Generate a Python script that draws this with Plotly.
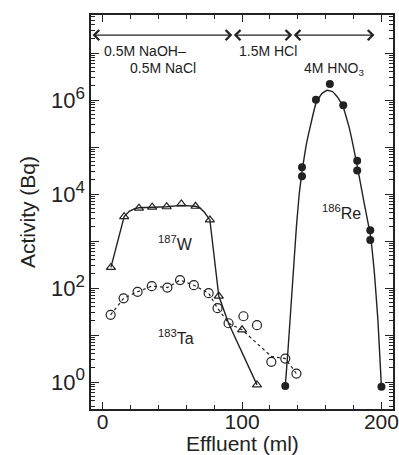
import plotly.graph_objects as go

# ---- data ----
w_x = [5.9, 15.4, 26, 35.5, 45.9, 56.4, 66.6, 76.9, 83.3, 100, 110.7]
w_y = [275, 3311, 5012, 5248, 5370, 6166, 5495, 2818, 67.6, 12.9, 0.87]
w_curve_x = [5.9, 15.4, 19, 23, 26, 35.5, 45.9, 56.4, 66.6, 70, 73, 76.9, 83.3, 90.3, 110.7]
w_curve_y = [275, 3311, 4300, 4900, 5100, 5248, 5370, 5754, 5495, 5000, 4100, 2818, 67.6, 17.8, 0.87]

ta_x = [5.7, 15, 25, 35.2, 46.4, 55.5, 65.4, 76, 82.4, 90.3, 101, 110.7, 121, 131, 139]
ta_y = [26.9, 60.3, 83.2, 109.6, 102.3, 147.9, 114.8, 77.6, 37.2, 17.8, 25.1, 16.2, 2.69, 3.16, 1.51]
ta_curve_x = [5.7, 15, 25, 35.2, 46.4, 55.5, 65.4, 76, 82.4, 90.3, 100, 121, 131, 139]
ta_curve_y = [26.9, 60.3, 83.2, 109.6, 102.3, 147.9, 114.8, 77.6, 37.2, 17.8, 12.9, 3.5, 3.16, 1.51]

re_x = [131, 143, 143, 153, 163, 172.6, 182.6, 182.6, 192, 192, 200]
re_y = [0.82, 37150, 23990, 1.02e6, 2.19e6, 7.76e5, 51290, 31620, 1698, 1047, 0.79]
re_curve_x = [131, 133, 136, 139, 141, 143, 146, 149, 153, 157, 161, 165, 169,
              172.6, 177, 182.6, 187, 192, 195, 197.5, 200]
re_curve_y = [0.82, 5, 100, 2000, 10000, 30000, 1.1e5, 2.8e5, 8.5e5, 1.35e6, 1.62e6, 1.5e6,
              1.1e6, 7e5, 2.5e5, 40000, 8000, 1350, 200, 20, 0.79]

x_ticks = [0, 100, 200]
x_minor = [20, 40, 60, 80, 120, 140, 160, 180]
y_ticks = [1, 10, 100, 1e3, 1e4, 1e5, 1e6, 1e7]
y_exp = ["0", "", "2", "", "4", "", "6", ""]
y_minor = [m * 10 ** k for k in range(-1, 8) for m in range(2, 10)]

INK = "#222222"
FONT = "Liberation Sans"

y_ticktext = [("10<sup><span style='font-size:17px'>%s</span></sup>" % e) if e else "" for e in y_exp]

fig = go.Figure()

fig.add_trace(go.Scatter(x=w_curve_x, y=w_curve_y, mode="lines",
                         line=dict(color=INK, width=1.4),
                         showlegend=False, hoverinfo="skip"))
fig.add_trace(go.Scatter(x=w_x, y=w_y, mode="markers",
                         marker=dict(symbol="triangle-up-open", size=8, color=INK,
                                     line=dict(width=1.2, color=INK)),
                         showlegend=False))
fig.add_trace(go.Scatter(x=ta_curve_x, y=ta_curve_y, mode="lines",
                         line=dict(color=INK, width=1.2, dash="3px,3px"),
                         showlegend=False, hoverinfo="skip"))
fig.add_trace(go.Scatter(x=ta_x, y=ta_y, mode="markers",
                         marker=dict(symbol="circle-open", size=9, color=INK,
                                     line=dict(width=1.2, color=INK)),
                         showlegend=False))
fig.add_trace(go.Scatter(x=re_curve_x, y=re_curve_y, mode="lines",
                         line=dict(color=INK, width=1.4, shape="spline", smoothing=0.3),
                         showlegend=False, hoverinfo="skip"))
fig.add_trace(go.Scatter(x=re_x, y=re_y, mode="markers",
                         marker=dict(symbol="circle", size=8, color=INK),
                         showlegend=False))

# eluent segments (arrows along the top)
arrow_y = 0.949
segments = [(-8.4, 93), (93, 136), (136, 195)]
for a, b in segments:
    fig.add_annotation(x=b, y=arrow_y, xref="x", yref="paper",
                       ax=a, ay=0, axref="x", ayref="pixel",
                       showarrow=True, arrowhead=4, startarrowhead=4,
                       arrowside="end+start", arrowsize=1.8, startarrowsize=1.8,
                       arrowwidth=1.1, arrowcolor=INK, text="")

labels = [
    ("0.5M NaOH–", -0.7, 0.908),
    ("0.5M NaCl", 17.9, 0.866),
    ("1.5M HCl", 96.4, 0.908),
    ("4M HNO<sub>3</sub>", 143, 0.862),
]
for t, x, y in labels:
    fig.add_annotation(x=x, y=y, xref="x", yref="paper", text=t, showarrow=False,
                       xanchor="left", yanchor="middle",
                       font=dict(family=FONT, size=14, color=INK))

iso = [
    ("<sup>187</sup>W", 38, 0.421),
    ("<sup>183</sup>Ta", 38, 0.183),
    ("<sup>186</sup>Re", 156, 0.50),
]
for t, x, y in iso:
    fig.add_annotation(x=x, y=y, xref="x", yref="paper", text=t, showarrow=False,
                       xanchor="left", yanchor="middle",
                       font=dict(family=FONT, size=16, color=INK))

# x-axis title placed just under the tick labels
fig.add_annotation(x=0.5, y=-0.088, xref="paper", yref="paper", text="Effluent (ml)",
                   showarrow=False, xanchor="center", yanchor="middle",
                   font=dict(family=FONT, size=21, color=INK))

fig.update_layout(
    width=399, height=455,
    margin=dict(l=91, r=6, t=15, b=46),
    paper_bgcolor="white", plot_bgcolor="white",
    font=dict(family=FONT, color=INK),
)
fig.update_xaxes(
    range=[-8.4, 208.3], tickvals=x_ticks, ticks="inside", ticklen=7, tickwidth=1.2,
    tickcolor=INK, showline=True, linecolor=INK, linewidth=1.5, mirror="ticks",
    showgrid=False, zeroline=False, automargin=False,
    ticklabeloverflow="allow", ticklabelstandoff=-7,
    tickfont=dict(family=FONT, size=21, color=INK),
    minor=dict(tickvals=x_minor, ticks="inside", ticklen=4, tickcolor=INK, tickwidth=1),
)
fig.update_yaxes(
    type="log", range=[-0.574, 7.81], tickvals=y_ticks, ticktext=y_ticktext,
    ticks="inside", ticklen=8, tickwidth=1.2, tickcolor=INK,
    showline=True, linecolor=INK, linewidth=1.5, mirror="ticks",
    showgrid=False, zeroline=False, automargin=False,
    ticklabeloverflow="allow",
    tickfont=dict(family=FONT, size=22, color=INK),
    minor=dict(tickvals=y_minor, ticks="inside", ticklen=4, tickcolor=INK, tickwidth=1),
    title=dict(text="Activity (Bq)", font=dict(family=FONT, size=21, color=INK), standoff=10),
)

fig.write_html("out.html")
